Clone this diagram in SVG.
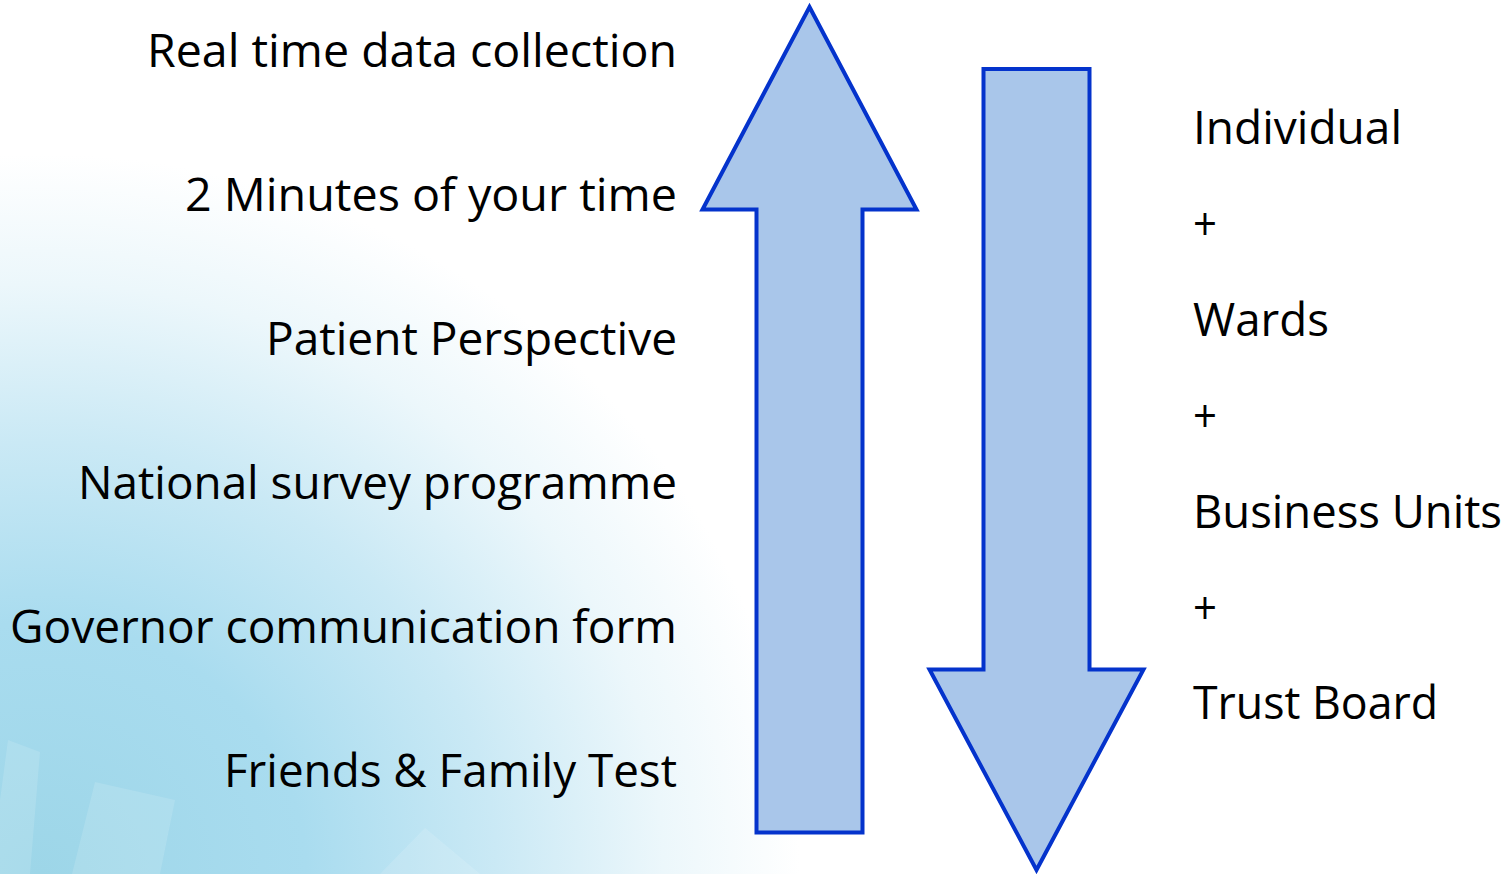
<svg xmlns="http://www.w3.org/2000/svg" width="1509" height="874" viewBox="0 0 1509 874">
  <defs>
    <radialGradient id="wash" gradientUnits="userSpaceOnUse" cx="0" cy="874" r="1" gradientTransform="translate(40 874) scale(760 720) translate(0 -874)">
      <stop offset="0" stop-color="#9dd6e8"/>
      <stop offset="0.35" stop-color="#a9dcef"/>
      <stop offset="0.6" stop-color="#cae9f5"/>
      <stop offset="0.82" stop-color="#ecf7fb"/>
      <stop offset="1" stop-color="#ffffff"/>
    </radialGradient>
    <style>
      .lbl { font-family: "Open Sans", "Noto Sans", "Liberation Sans", sans-serif; font-size: 46px; fill: #000; }
      .left { text-anchor: end; }
      .arrow { fill: #a9c6ea; stroke: #0433cc; stroke-width: 4; stroke-linejoin: miter; }
      .facet { fill: #ffffff; opacity: 0.13; }
    </style>
  </defs>

  <!-- background wash -->
  <rect x="0" y="0" width="1509" height="874" fill="#ffffff"/>
  <rect x="0" y="0" width="1509" height="874" fill="url(#wash)"/>
  <polygon class="facet" points="72,874 95,782 175,800 160,874"/>
  <polygon class="facet" points="0,800 8,740 40,752 30,874 0,874"/>
  <polygon class="facet" points="380,874 425,828 480,874"/>

  <!-- connectors -->
  <g id="connectors">
    <polygon id="arrow-up" class="arrow" points="809.5,7 916.5,209.5 862.5,209.5 862.5,832.5 756.5,832.5 756.5,209.5 702.5,209.5"/>
    <polygon id="arrow-down" class="arrow" points="983.5,69 1089.5,69 1089.5,669.5 1143.5,669.5 1036.5,870 929.5,669.5 983.5,669.5"/>
  </g>

  <!-- left column: feedback sources -->
  <g id="n-realtime"><text class="lbl left" x="677" y="67" textLength="530" lengthAdjust="spacingAndGlyphs">Real time data collection</text></g>
  <g id="n-2min"><text class="lbl left" x="677" y="211" textLength="492" lengthAdjust="spacingAndGlyphs">2 Minutes of your time</text></g>
  <g id="n-patient"><text class="lbl left" x="677" y="355" textLength="411" lengthAdjust="spacingAndGlyphs">Patient Perspective</text></g>
  <g id="n-national"><text class="lbl left" x="677" y="499" textLength="599" lengthAdjust="spacingAndGlyphs">National survey programme</text></g>
  <g id="n-governor"><text class="lbl left" x="677" y="643" textLength="667" lengthAdjust="spacingAndGlyphs">Governor communication form</text></g>
  <g id="n-fft"><text class="lbl left" x="677" y="787" textLength="453" lengthAdjust="spacingAndGlyphs">Friends &amp; Family Test</text></g>

  <!-- right column: reporting levels -->
  <g id="n-individual"><text class="lbl" x="1193" y="144" textLength="209" lengthAdjust="spacingAndGlyphs">Individual</text></g>
  <g id="n-plus1"><text class="lbl" x="1193" y="240" textLength="24" lengthAdjust="spacingAndGlyphs">+</text></g>
  <g id="n-wards"><text class="lbl" x="1193" y="336" textLength="136" lengthAdjust="spacingAndGlyphs">Wards</text></g>
  <g id="n-plus2"><text class="lbl" x="1193" y="432" textLength="24" lengthAdjust="spacingAndGlyphs">+</text></g>
  <g id="n-business"><text class="lbl" x="1193" y="528" textLength="309" lengthAdjust="spacingAndGlyphs">Business Units</text></g>
  <g id="n-plus3"><text class="lbl" x="1193" y="624" textLength="24" lengthAdjust="spacingAndGlyphs">+</text></g>
  <g id="n-trust"><text class="lbl" x="1193" y="719" textLength="245" lengthAdjust="spacingAndGlyphs">Trust Board</text></g>
</svg>
